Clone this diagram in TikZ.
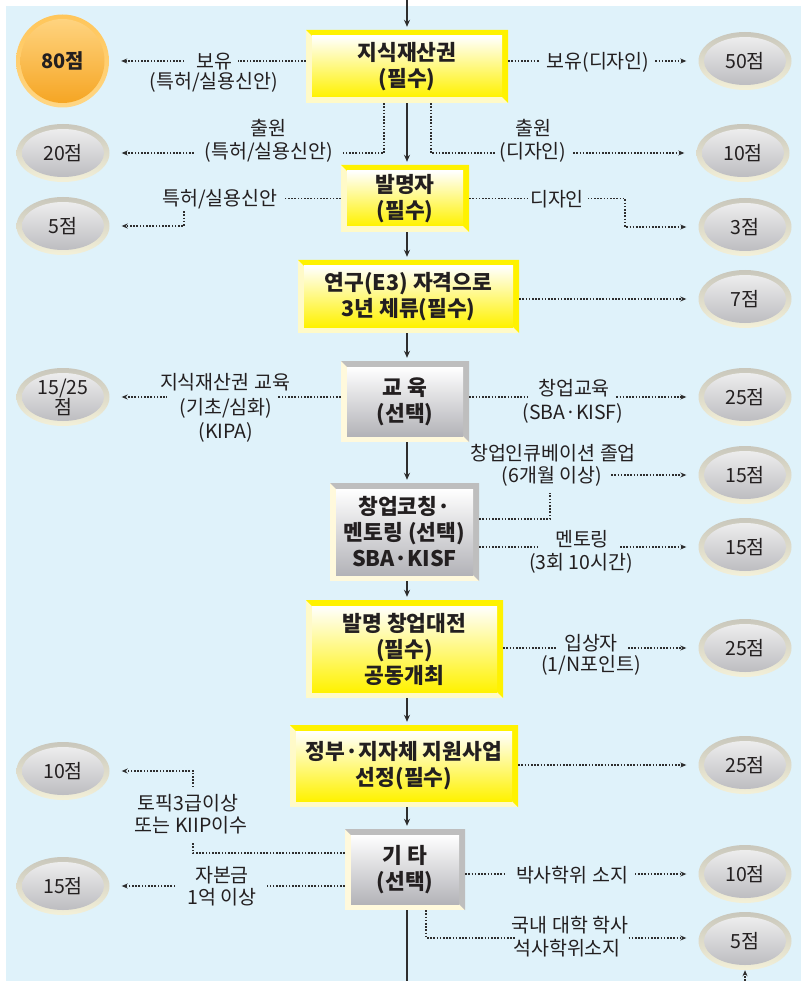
\documentclass[tikz,border=0pt]{standalone}
\usepackage{fontspec}
\setmainfont{Noto Sans CJK KR}
\usetikzlibrary{arrows.meta,shapes.geometric,calc}
\definecolor{bgc}{HTML}{DFF2FA}
\definecolor{lc}{HTML}{2E2E2E}
\definecolor{txt}{HTML}{231F20}
\definecolor{ylw}{HTML}{FFF200}
\definecolor{ypale}{HTML}{FFFAC8}
\definecolor{gfr}{HTML}{BEBEBE}
\definecolor{gpale}{HTML}{FFF9DC}
\definecolor{gbot}{HTML}{B3B3B8}
\definecolor{rimtop}{HTML}{C9C7BC}
\definecolor{rimbot}{HTML}{F3F0D8}
\definecolor{eltop}{HTML}{F2F2F2}
\definecolor{elbot}{HTML}{B8B8BC}
\definecolor{ortop}{HTML}{FFD684}
\definecolor{orbot}{HTML}{F5A31F}
\definecolor{orrim}{HTML}{FFC65A}
\newcommand\lfnt{\fontsize{19.5}{22}\selectfont}
\newcommand\bfnt{\fontsize{21.5}{26}\selectfont\bfseries}
\newcommand\efnt{\fontsize{19.5}{20}\selectfont}
\tikzset{
  ybox/.style={rectangle, inner sep=0pt, align=center, fill=ypale, text=txt, font=\bfnt,
    path picture={
      \fill[ylw] (path picture bounding box.north west) -- (path picture bounding box.north east)
        -- (path picture bounding box.south east) -- ([shift={(-6pt,6pt)}]path picture bounding box.south east)
        -- ([shift={(-6pt,-6pt)}]path picture bounding box.north east) -- ([shift={(6pt,-6pt)}]path picture bounding box.north west) -- cycle;
      \shade[top color=white, middle color=ylw!22!white, bottom color=ylw]
        ([shift={(6pt,-6pt)}]path picture bounding box.north west) rectangle ([shift={(-6pt,6pt)}]path picture bounding box.south east);
    }},
  gbox/.style={rectangle, inner sep=0pt, align=center, fill=gpale, text=txt, font=\bfnt,
    path picture={
      \fill[gfr] (path picture bounding box.north west) -- (path picture bounding box.north east)
        -- (path picture bounding box.south east) -- ([shift={(-6pt,6pt)}]path picture bounding box.south east)
        -- ([shift={(-6pt,-6pt)}]path picture bounding box.north east) -- ([shift={(6pt,-6pt)}]path picture bounding box.north west) -- cycle;
      \shade[top color=white, middle color=gbot!40!white, bottom color=gbot]
        ([shift={(6pt,-6pt)}]path picture bounding box.north west) rectangle ([shift={(-6pt,6pt)}]path picture bounding box.south east);
    }},
  ell/.style={ellipse, minimum width=93pt, minimum height=58pt, inner sep=0pt, top color=rimtop, bottom color=rimbot,
    text=txt, font=\efnt, align=center,
    path picture={\shade[top color=eltop, bottom color=elbot] (path picture bounding box.center) ellipse [x radius=41pt, y radius=24pt];}},
  orng/.style={circle, minimum size=93pt, inner sep=0pt, top color=orrim, bottom color=ortop,
    text=txt, font=\fontsize{20}{22}\selectfont\bfseries,
    path picture={\shade[top color=ortop, bottom color=orbot] (path picture bounding box.center) circle [radius=42pt];}},
  dotarr/.style={draw=lc, line width=1.6pt, dash pattern=on 1.6pt off 1.6pt, -{Stealth[length=6pt,width=5pt]}, shorten >=12pt},
  spinearr/.style={draw=lc, line width=2pt, -{Stealth[length=7pt,width=6pt]}, shorten >=3pt},
  spine/.style={draw=lc, line width=2pt},
  gap/.style={fill=bgc, inner sep=0pt, minimum height=6pt},
  lbl/.style={inner sep=0pt, text=txt, font=\lfnt}
}
\begin{document}
\begin{tikzpicture}[x=1pt,y=-1pt]
\useasboundingbox (0,0) rectangle (801,981);
\fill[white] (0,0) rectangle (801,981);
\fill[bgc] (6,6) rectangle (801,981);

% boxes
\node[ybox, minimum width=202pt, minimum height=73pt] (B1) at (407,66.5) {지식재산권\\(필수)};
\node[ybox, minimum width=128pt, minimum height=67pt] (B2) at (405,198.5) {발명자\\(필수)};
\node[ybox, minimum width=221pt, minimum height=73pt] (B3) at (408.5,296.5) {연구(E3) 자격으로\\3년 체류(필수)};
\node[gbox, minimum width=128pt, minimum height=81pt] (B4) at (405,401.5) {교 육\\(선택)};
\node[gbox, minimum width=149pt, minimum height=98pt] (B5) at (404.5,532) {창업코칭·\\멘토링 (선택)\\SBA·KISF};
\node[ybox, minimum width=197pt, minimum height=98pt] (B6) at (404.5,649) {발명 창업대전\\(필수)\\공동개최};
\node[ybox, minimum width=228pt, minimum height=82pt] (B7) at (404,766) {정부·지자체 지원사업\\선정(필수)};
\node[gbox, minimum width=120pt, minimum height=81pt] (B8) at (405,869.5) {기 타\\(선택)};

% spine
\coordinate (sp) at (407,0);
\coordinate (spb) at (407,981);
\draw[spinearr] (sp) -- (sp |- B1.north);
\draw[spinearr] (sp |- B1.south) -- (sp |- B2.north);
\draw[spinearr] (sp |- B2.south) -- (sp |- B3.north);
\draw[spinearr] (sp |- B3.south) -- (sp |- B4.north);
\draw[spinearr] (sp |- B4.south) -- (sp |- B5.north);
\draw[spinearr] (sp |- B5.south) -- (sp |- B6.north);
\draw[spinearr] (sp |- B6.south) -- (sp |- B7.north);
\draw[spinearr] (sp |- B7.south) -- (sp |- B8.north);
\draw[spine] (sp |- B8.south) -- (spb);

% score ellipses
\node[orng] (P80) at (62.5,61) {80점};
\node[ell] (E20L) at (63,153) {20점};
\node[ell] (E5L) at (63,226) {5점};
\node[ell] (E1525) at (63,397) {15/25\\점};
\node[ell] (E10L) at (63,771) {10점};
\node[ell] (E15L) at (63,886) {15점};
\node[ell] (E50) at (745,61) {50점};
\node[ell] (E10R) at (743,153) {10점};
\node[ell] (E3R) at (745,227) {3점};
\node[ell] (E7R) at (745,299) {7점};
\node[ell] (E25a) at (745,397) {25점};
\node[ell] (E15a) at (745,475) {15점};
\node[ell] (E15b) at (745,547) {15점};
\node[ell] (E25b) at (745,648) {25점};
\node[ell] (E25c) at (745,765) {25점};
\node[ell] (E10R2) at (745,874) {10점};
\node[ell] (E5R) at (745,941) {5점};

% connectors
\coordinate (k5) at (184,198.5);
\coordinate (k6) at (625,198.5);
\coordinate (k10) at (550,519);
\coordinate (k14) at (193,853);
\coordinate (b5) at (745,981);
\draw[dotarr] (B1.west |- P80.east) -- (P80.east);
\draw[dotarr] (B1.east |- E50.west) -- (E50.west);
\draw[dotarr] ([xshift=-23pt]B1.south) |- (E20L.east);
\draw[dotarr] ([xshift=24pt]B1.south) |- (E10R.west);
\draw[dotarr] (B2.west) -- (k5) |- (E5L.east);
\draw[dotarr] (B2.east) -- (k6) |- (E3R.west);
\draw[dotarr] (B3.east |- E7R.west) -- (E7R.west);
\draw[dotarr] (B4.west |- E1525.east) -- (E1525.east);
\draw[dotarr] (B4.east |- E25a.west) -- (E25a.west);
\draw[dotarr] (B5.east |- k10) -- (k10) |- (E15a.west);
\draw[dotarr] (B5.east |- E15b.west) -- (E15b.west);
\draw[dotarr] (B6.east |- E25b.west) -- (E25b.west);
\draw[dotarr] (B7.east |- E25c.west) -- (E25c.west);
\draw[dotarr] (B8.west |- k14) -- (k14) |- (E10L.east);
\draw[dotarr] (B8.west |- E15L.east) -- (E15L.east);
\draw[dotarr] (B8.east |- E10R2.west) -- (E10R2.west);
\draw[dotarr] ([xshift=21pt]B8.south) |- ([yshift=3pt]E5R.west);
\draw[dotarr, shorten >=0pt] (b5) -- (E5R.south);

% gaps in the connectors behind labels
\node[gap, minimum width=53pt] (G1) at (211.5,61) {};
\node[gap, minimum width=115pt] (G2) at (597.5,61) {};
\node[gap, minimum width=149pt] (G3) at (268.5,153) {};
\node[gap, minimum width=78pt] (G4) at (534,153) {};
\node[gap, minimum width=106pt, minimum height=24pt] (G5) at (232,198.5) {};
\node[gap, minimum width=60pt] (G6) at (558,198.5) {};
\node[gap, minimum width=111pt] (G8) at (222.5,397) {};
\node[gap, minimum width=88pt] (G9) at (572,397) {};
\node[gap, minimum width=64pt, minimum height=22pt] (G10) at (578,482) {};
\node[gap, minimum width=78pt] (G11) at (579,547) {};
\node[gap, minimum width=70pt] (G12) at (592,648) {};
\node[gap, minimum width=8pt, minimum height=55pt] (G14) at (193,814.5) {};
\node[gap, minimum width=90pt] (G15) at (222,886) {};
\node[gap, minimum width=129pt] (G16) at (570.5,874) {};
\node[gap, minimum width=113pt] (G17) at (571.5,938) {};

% labels
\node[lbl] (T1a) at (214,62) {보유};
\node[lbl] (T1b) at (214,82) {(특허/실용신안)};
\node[lbl] (T2) at (598,62) {보유(디자인)};
\node[lbl] (T3a) at (268,128) {출원};
\node[lbl] (T3b) at (269,152) {(특허/실용신안)};
\node[lbl] (T4a) at (533,128) {출원};
\node[lbl] (T4b) at (533,152) {(디자인)};
\node[lbl] (T5) at (220,199) {특허/실용신안};
\node[lbl] (T6) at (557,199) {디자인};
\node[lbl] (T8a) at (225,382) {지식재산권 교육};
\node[lbl] (T8b) at (226,408) {(기초/심화)};
\node[lbl] (T8c) at (226,432) {(KIPA)};
\node[lbl] (T9a) at (574,388) {창업교육};
\node[lbl] (T9b) at (573,413) {(SBA·KISF)};
\node[lbl] (T10a) at (553,453) {창업인큐베이션 졸업};
\node[lbl] (T10b) at (552,476) {(6개월 이상)};
\node[lbl] (T11a) at (582,539) {멘토링};
\node[lbl] (T11b) at (581,563) {(3회 10시간)};
\node[lbl] (T12a) at (591,643) {입상자};
\node[lbl] (T12b) at (591,665) {(1/N포인트)};
\node[lbl] (T14a) at (188,803) {토픽3급이상};
\node[lbl] (T14b) at (191,825) {또는 KIIP이수};
\node[lbl] (T15a) at (222,875) {자본금};
\node[lbl] (T15b) at (222,897) {1억 이상};
\node[lbl] (T16) at (572,875) {박사학위 소지};
\node[lbl] (T17a) at (570,925) {국내 대학 학사};
\node[lbl] (T17b) at (567,948) {석사학위소지};
\end{tikzpicture}
\end{document}
